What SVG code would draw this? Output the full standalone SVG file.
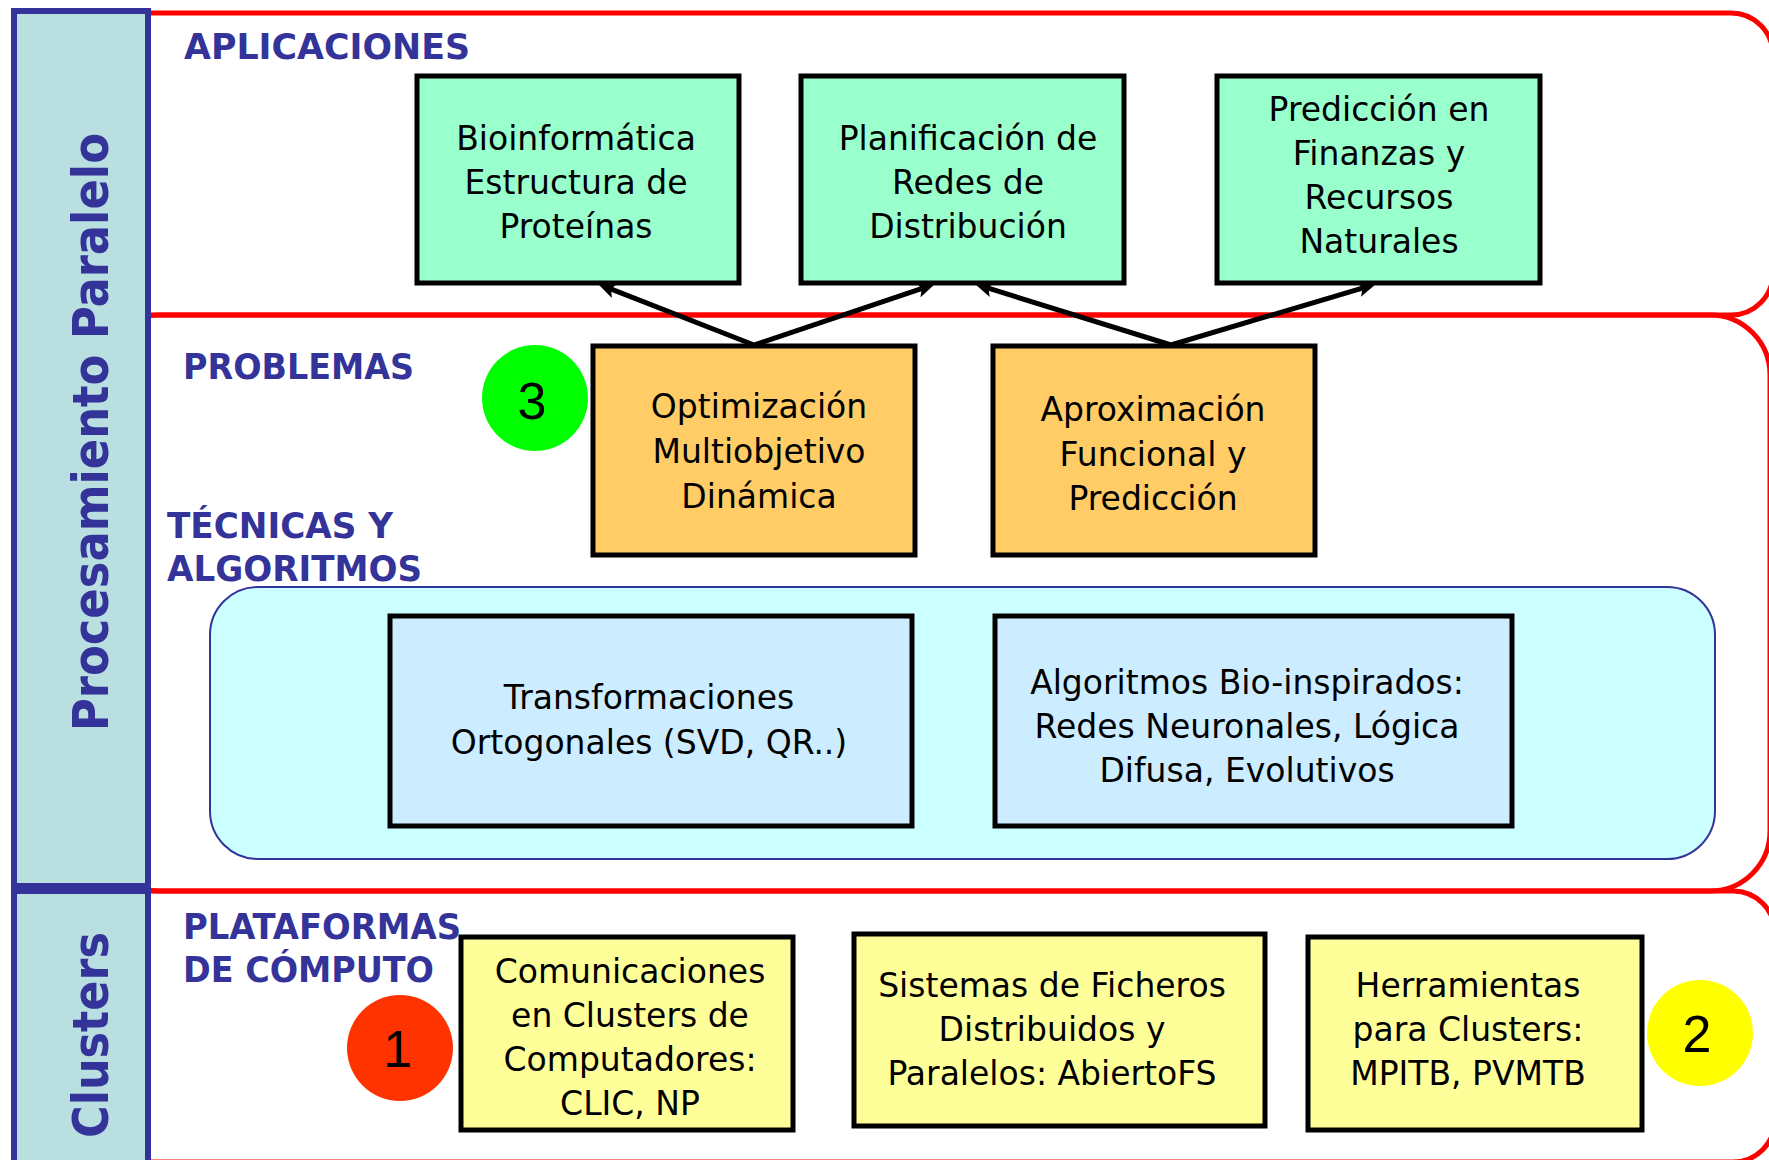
<svg xmlns="http://www.w3.org/2000/svg" width="1769" height="1160" viewBox="0 0 1769 1160">
<style>
.sec{fill:none;stroke:#FF0000;stroke-width:5}
.side{fill:#B9DFE1;stroke:#333399;stroke-width:6}
.sidetxt{font-family:"DejaVu Sans Condensed","DejaVu Sans",sans-serif;font-weight:bold;font-size:50px;fill:#333399;text-anchor:middle}
.lbl{font-family:"DejaVu Sans Condensed","DejaVu Sans",sans-serif;font-weight:bold;font-size:36px;fill:#333399}
.box{stroke:#000;stroke-width:5}
.app{fill:#99FFCC}
.prob{fill:#FFCC66}
.tec{fill:#CCECFF}
.plat{fill:#FFFF99}
.t{font-family:"DejaVu Sans",sans-serif;font-size:33px;fill:#000;text-anchor:middle}
.num{font-family:"Liberation Sans",Arial,sans-serif;font-size:52px;fill:#000;text-anchor:middle}
.arr{stroke:#000;stroke-width:5;fill:none;marker-end:url(#ah)}
</style>
<defs>
<marker id="ah" markerUnits="userSpaceOnUse" markerWidth="20" markerHeight="16" refX="10" refY="8" orient="auto">
<path d="M0,0 L18,8 L0,16 L4,8 z" fill="#000"/>
</marker>
</defs>
<rect width="1769" height="1160" fill="#fff"/>
<g id="sections">
<rect class="sec" x="100" y="13" width="1673" height="302" rx="42" ry="42"/>
<rect class="sec" x="100" y="315" width="1670" height="576" rx="60" ry="60"/>
<rect class="sec" x="100" y="891" width="1675" height="271" rx="42" ry="42"/>
</g>
<g id="sidebar-procesamiento">
<rect class="side" x="14" y="11" width="134" height="875"/>
<text class="sidetxt" transform="translate(108,432) rotate(-90)" textLength="598" lengthAdjust="spacingAndGlyphs">Procesamiento Paralelo</text>
</g>
<g id="sidebar-clusters">
<rect class="side" x="14" y="891" width="134" height="272"/>
<text class="sidetxt" transform="translate(108,1035) rotate(-90)" textLength="206" lengthAdjust="spacingAndGlyphs">Clusters</text>
</g>
<g id="labels">
<text class="lbl" x="184" y="59" textLength="286" lengthAdjust="spacingAndGlyphs">APLICACIONES</text>
<text class="lbl" x="183" y="379" textLength="231" lengthAdjust="spacingAndGlyphs">PROBLEMAS</text>
<text class="lbl" x="167" y="538" textLength="226" lengthAdjust="spacingAndGlyphs">TÉCNICAS Y</text>
<text class="lbl" x="167" y="581" textLength="255" lengthAdjust="spacingAndGlyphs">ALGORITMOS</text>
<text class="lbl" x="183" y="939" textLength="278" lengthAdjust="spacingAndGlyphs">PLATAFORMAS</text>
<text class="lbl" x="183" y="982" textLength="251" lengthAdjust="spacingAndGlyphs">DE CÓMPUTO</text>
</g>
<g id="tecnicas-container">
<rect x="210" y="587" width="1505" height="272" rx="48" ry="48" fill="#CCFFFF" stroke="#333399" stroke-width="2"/>
</g>
<g id="app-bioinformatica">
<rect class="box app" x="417" y="76" width="322" height="207"/>
<text class="t" x="576" y="150">Bioinformática</text>
<text class="t" x="576" y="194">Estructura de</text>
<text class="t" x="576" y="238">Proteínas</text>
</g>
<g id="app-planificacion">
<rect class="box app" x="801" y="76" width="323" height="207"/>
<text class="t" x="968" y="150">Planificación de</text>
<text class="t" x="968" y="194">Redes de</text>
<text class="t" x="968" y="238">Distribución</text>
</g>
<g id="app-prediccion">
<rect class="box app" x="1217" y="76" width="323" height="207"/>
<text class="t" x="1379" y="121">Predicción en</text>
<text class="t" x="1379" y="165">Finanzas y</text>
<text class="t" x="1379" y="209">Recursos</text>
<text class="t" x="1379" y="253">Naturales</text>
</g>
<g id="prob-optimizacion">
<rect class="box prob" x="593" y="346" width="322" height="209"/>
<text class="t" x="759" y="418">Optimización</text>
<text class="t" x="759" y="463">Multiobjetivo</text>
<text class="t" x="759" y="508">Dinámica</text>
</g>
<g id="prob-aproximacion">
<rect class="box prob" x="993" y="346" width="322" height="209"/>
<text class="t" x="1153" y="421">Aproximación</text>
<text class="t" x="1153" y="466">Funcional y</text>
<text class="t" x="1153" y="510">Predicción</text>
</g>
<g id="tec-transformaciones">
<rect class="box tec" x="390" y="616" width="522" height="210"/>
<text class="t" x="649" y="709">Transformaciones</text>
<text class="t" x="649" y="754">Ortogonales (SVD, QR..)</text>
</g>
<g id="tec-bioinspirados">
<rect class="box tec" x="995" y="616" width="517" height="210"/>
<text class="t" x="1247" y="694">Algoritmos Bio-inspirados:</text>
<text class="t" x="1247" y="738">Redes Neuronales, Lógica</text>
<text class="t" x="1247" y="782">Difusa, Evolutivos</text>
</g>
<g id="plat-comunicaciones">
<rect class="box plat" x="461" y="937" width="332" height="193"/>
<text class="t" x="630" y="983">Comunicaciones</text>
<text class="t" x="630" y="1027">en Clusters de</text>
<text class="t" x="630" y="1071">Computadores:</text>
<text class="t" x="630" y="1115">CLIC, NP</text>
</g>
<g id="plat-sistemas">
<rect class="box plat" x="854" y="934" width="411" height="192"/>
<text class="t" x="1052" y="997">Sistemas de Ficheros</text>
<text class="t" x="1052" y="1041">Distribuidos y</text>
<text class="t" x="1052" y="1085">Paralelos: AbiertoFS</text>
</g>
<g id="plat-herramientas">
<rect class="box plat" x="1308" y="937" width="334" height="193"/>
<text class="t" x="1468" y="997">Herramientas</text>
<text class="t" x="1468" y="1041">para Clusters:</text>
<text class="t" x="1468" y="1085">MPITB, PVMTB</text>
</g>
<g id="badge-3">
<circle cx="535" cy="398" r="53" fill="#00FF00"/>
<text class="num" x="532" y="419">3</text>
</g>
<g id="badge-1">
<circle cx="400" cy="1048" r="53" fill="#FF3300"/>
<text class="num" x="398" y="1067">1</text>
</g>
<g id="badge-2">
<circle cx="1700" cy="1033" r="53" fill="#FFFF00"/>
<text class="num" x="1697" y="1052">2</text>
</g>
<g id="connectors">
<line class="arr" x1="754" y1="345" x2="605.5" y2="286.9"/>
<line class="arr" x1="754" y1="345" x2="927.4" y2="286.6"/>
<line class="arr" x1="1171" y1="345" x2="982.6" y2="286.4"/>
<line class="arr" x1="1171" y1="345" x2="1368.3" y2="286.3"/>
</g>
</svg>
